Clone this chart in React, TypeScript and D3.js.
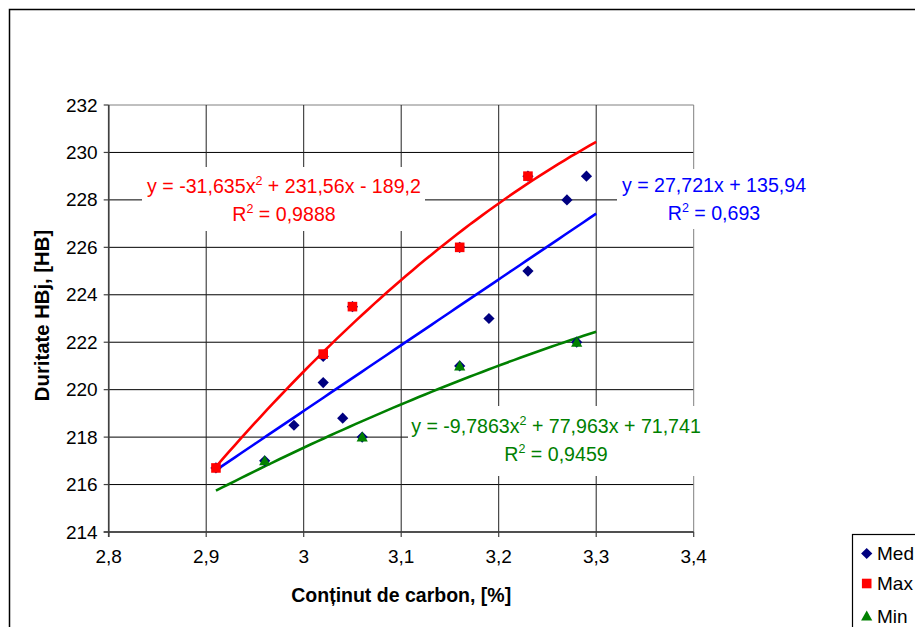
import React from "react";
import * as d3 from "d3";

// ---- data ----
const medX = [2.91, 2.96, 2.99, 3.02, 3.02, 3.04, 3.05, 3.06, 3.16, 3.16, 3.19, 3.23, 3.23, 3.27, 3.28, 3.29];
const medY = [216.7, 217, 218.5, 220.3, 221.4, 218.8, 223.5, 218, 221, 226, 223, 225, 229, 228, 222, 229];
const maxX = [2.91, 3.02, 3.05, 3.16, 3.23];
const maxY = [216.7, 221.5, 223.5, 226, 229];
const minX = [2.96, 3.06, 3.16, 3.28];
const minY = [217, 218, 221, 222];

// trendline coefficients [a2, a1, a0] as shown in the labels
const medCoef = [0, 27.721, 135.94];
const maxCoef = [-31.635, 231.56, -189.2];
const minCoef = [-9.7863, 77.963, 71.741];
const trendRange = [2.91, 3.3];

const xTicks = [2.8, 2.9, 3.0, 3.1, 3.2, 3.3, 3.4];
const yTicks = [214, 216, 218, 220, 222, 224, 226, 228, 230, 232];
const seriesNames = ["Med", "Max", "Min"];

const FONT = "'Liberation Sans', Arial, sans-serif";
const fmt = (v: number) => String(+v.toFixed(2)).replace(".", ",");

export default function App() {
  const W = 915, H = 627;
  const x = d3.scaleLinear().domain([2.8, 3.4]).range([108.7, 693.7]);
  const y = d3.scaleLinear().domain([214, 232]).range([532, 105]);

  const trendPath = (c: number[]) => {
    const n = 60;
    const pts: [number, number][] = d3.range(n + 1).map((i) => {
      const xv = trendRange[0] + ((trendRange[1] - trendRange[0]) * i) / n;
      return [xv, c[0] * xv * xv + c[1] * xv + c[2]];
    });
    return d3.line<[number, number]>().x((d) => x(d[0])).y((d) => y(d[1]))(pts) || "";
  };

  const diamond = (cx: number, cy: number, r = 5.6) =>
    `M${cx},${cy - r}L${cx + r},${cy}L${cx},${cy + r}L${cx - r},${cy}Z`;
  const square = (cx: number, cy: number, r = 4.8) =>
    `M${cx - r},${cy - r}h${2 * r}v${2 * r}h${-2 * r}Z`;
  const tri = (cx: number, cy: number, r = 5.6) =>
    `M${cx},${cy - r}L${cx + r},${cy + r * 0.8}L${cx - r},${cy + r * 0.8}Z`;

  const [x0, x1] = x.range();
  const [yb, yt] = y.range();

  return (
    <svg width={W} height={H} style={{ position: "absolute", left: 0, top: 0, background: "#fff" }}
      fontFamily={FONT}>
      <rect x={0} y={0} width={W} height={H} fill="#fff" />
      {/* chart area border */}
      <rect x={9.5} y={9.5} width={W + 20} height={H + 20} fill="none" stroke="#000" strokeWidth={1.5} />

      {/* gridlines */}
      {yTicks.map((t) => (
        <line key={"gy" + t} x1={x0} x2={x1} y1={y(t)} y2={y(t)} stroke={t === 232 ? "#808080" : "#000"} strokeWidth={1} />
      ))}
      {xTicks.map((t) => (
        <line key={"gx" + t} x1={x(t)} x2={x(t)} y1={yt} y2={yb} stroke={t === 3.4 ? "#808080" : "#222"} strokeWidth={1} />
      ))}

      {/* axes */}
      <line x1={x0} x2={x0} y1={yt} y2={yb + 5} stroke="#404040" strokeWidth={1.6} />
      <line x1={x0 - 5} x2={x1} y1={yb} y2={yb} stroke="#404040" strokeWidth={1.6} />
      {yTicks.map((t) => (
        <g key={"ty" + t}>
          <line x1={x0 - 5} x2={x0} y1={y(t)} y2={y(t)} stroke="#404040" strokeWidth={1.2} />
          <text x={x0 - 11} y={y(t) + 6.5} textAnchor="end" fontSize={19}>{t}</text>
        </g>
      ))}
      {xTicks.map((t) => (
        <g key={"tx" + t}>
          <line x1={x(t)} x2={x(t)} y1={yb} y2={yb + 5} stroke="#404040" strokeWidth={1.2} />
          <text x={x(t)} y={yb + 31} textAnchor="middle" fontSize={19}>{fmt(t)}</text>
        </g>
      ))}

      {/* axis titles */}
      <text x={(x0 + x1) / 2} y={602} textAnchor="middle" fontSize={19.5} fontWeight="bold">Conținut de carbon, [%]</text>
      <text transform={`translate(49,${(yt + yb) / 2 - 3}) rotate(-90)`} textAnchor="middle" fontSize={20.3} fontWeight="bold">Duritate HBj, [HB]</text>

      {/* trendlines */}
      <path d={trendPath(maxCoef)} fill="none" stroke="#ff0000" strokeWidth={2.6} />
      <path d={trendPath(medCoef)} fill="none" stroke="#0000ff" strokeWidth={2.6} />
      <path d={trendPath(minCoef)} fill="none" stroke="#008000" strokeWidth={2.6} />

      {/* markers */}
      {medX.map((v, i) => (
        <path key={"m" + i} d={diamond(x(v), y(medY[i]))} fill="#000080" />
      ))}
      {maxX.map((v, i) => (
        <path key={"M" + i} d={square(x(v), y(maxY[i]))} fill="#ff0000" />
      ))}
      {minX.map((v, i) => (
        <path key={"n" + i} d={tri(x(v), y(minY[i]))} fill="#008000" />
      ))}

      {/* trendline labels */}
      <g fontSize={19.6}>
        <rect x={142} y={167} width={283} height={64} fill="#fff" />
        <text x={284} y={193} textAnchor="middle" fill="#ff0000">
          y = -31,635x<tspan dy={-8} fontSize={12.5}>2</tspan><tspan dy={8}> + 231,56x - 189,2</tspan>
        </text>
        <text x={284} y={221} textAnchor="middle" fill="#ff0000">
          R<tspan dy={-8} fontSize={12.5}>2</tspan><tspan dy={8}> = 0,9888</tspan>
        </text>

        <rect x={617} y={169} width={200} height={60} fill="#fff" />
        <text x={714} y={192} textAnchor="middle" fill="#0000ff">y = 27,721x + 135,94</text>
        <text x={714} y={220} textAnchor="middle" fill="#0000ff">
          R<tspan dy={-8} fontSize={12.5}>2</tspan><tspan dy={8}> = 0,693</tspan>
        </text>

        <rect x={408} y={406} width={300} height={70} fill="#fff" />
        <text x={556} y={433} textAnchor="middle" fill="#008000">
          y = -9,7863x<tspan dy={-8} fontSize={12.5}>2</tspan><tspan dy={8}> + 77,963x + 71,741</tspan>
        </text>
        <text x={556} y={461} textAnchor="middle" fill="#008000">
          R<tspan dy={-8} fontSize={12.5}>2</tspan><tspan dy={8}> = 0,9459</tspan>
        </text>
      </g>

      {/* legend */}
      <rect x={852.5} y={534.5} width={100} height={120} fill="#fff" stroke="#000" strokeWidth={1.2} />
      <path d={diamond(866.7, 553.5)} fill="#000080" />
      <path d={square(866.7, 583.5)} fill="#ff0000" />
      <path d={tri(866.7, 616)} fill="#008000" />
      {seriesNames.map((s, i) => (
        <text key={s} x={877} y={[560, 590, 623][i]} fontSize={19}>{s}</text>
      ))}
    </svg>
  );
}
